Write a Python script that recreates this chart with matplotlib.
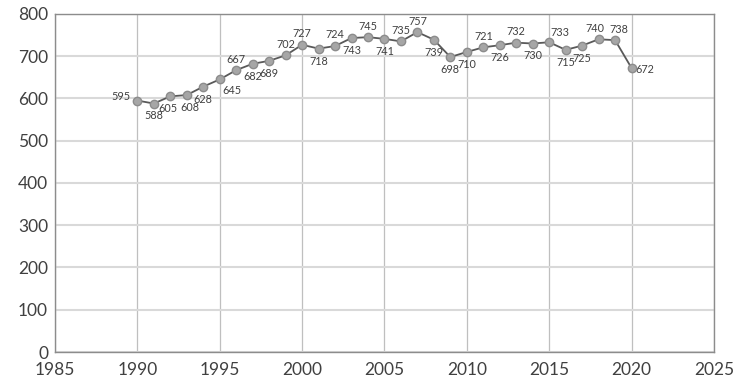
import matplotlib.pyplot as plt

years = list(range(1990, 2021))
values = [595, 588, 605, 608, 628, 645, 667, 682, 689, 702, 727, 718, 724, 743, 745,
          741, 735, 757, 739, 698, 710, 721, 726, 732, 730, 733, 715, 725, 740, 738, 672]
# label placement: l=left, b=below, a=above, r=right, br=below-right, ar=above-right
where = ["l", "b", "b", "b", "b", "br", "a", "b", "b", "a", "a", "b", "a", "b", "a",
         "b", "a", "a", "b", "b", "b", "a", "b", "a", "b", "ar", "b", "b", "a", "a", "r"]
# small sideways nudges (points) where neighbouring labels crowd
nudge = {1992: -2, 1993: 2, 2018: -3, 2019: 3}

OFF = {"l": (-5, 3, "right", "center"), "b": (0, -5, "center", "top"),
       "a": (0, 4, "center", "bottom"), "r": (3, -1, "left", "center"),
       "br": (2, -4, "left", "top"), "ar": (1, 3, "left", "bottom")}

plt.rcParams.update({"font.family": ["Lato", "DejaVu Sans"]})
fig = plt.figure(figsize=(7.36, 3.87), dpi=100)
ax = fig.add_axes([0.0747, 0.0904, 0.8953, 0.8736])

ax.plot(years, values, "-", color="#595959", lw=1.3, zorder=3)
ax.plot(years, values, "o", ms=6, mfc="#a6a6a6", mec="#8c8c8c", mew=1, zorder=4)
for x, y, w in zip(years, values, where):
    dx, dy, ha, va = OFF[w]
    ax.annotate(str(y), (x, y), textcoords="offset points", xytext=(dx + nudge.get(x, 0), dy),
                ha=ha, va=va, fontsize=7.8, color="#404040")

ax.set_xlim(1985, 2025); ax.set_ylim(0, 800)
ax.set_xticks(range(1985, 2026, 5)); ax.set_yticks(range(0, 801, 100))
ax.tick_params(length=0, labelsize=12.5, colors="#404040")
ax.tick_params(axis="x", pad=7)
ax.tick_params(axis="y", pad=5)
ax.yaxis.grid(True, color="#d9d9d9", lw=1.5)
ax.xaxis.grid(True, color="#bfbfbf", lw=0.9)
ax.set_axisbelow(True)
for s in ax.spines.values():
    s.set_color("#8c8c8c"); s.set_linewidth(1.0)

fig.savefig("out.png", dpi=100)
